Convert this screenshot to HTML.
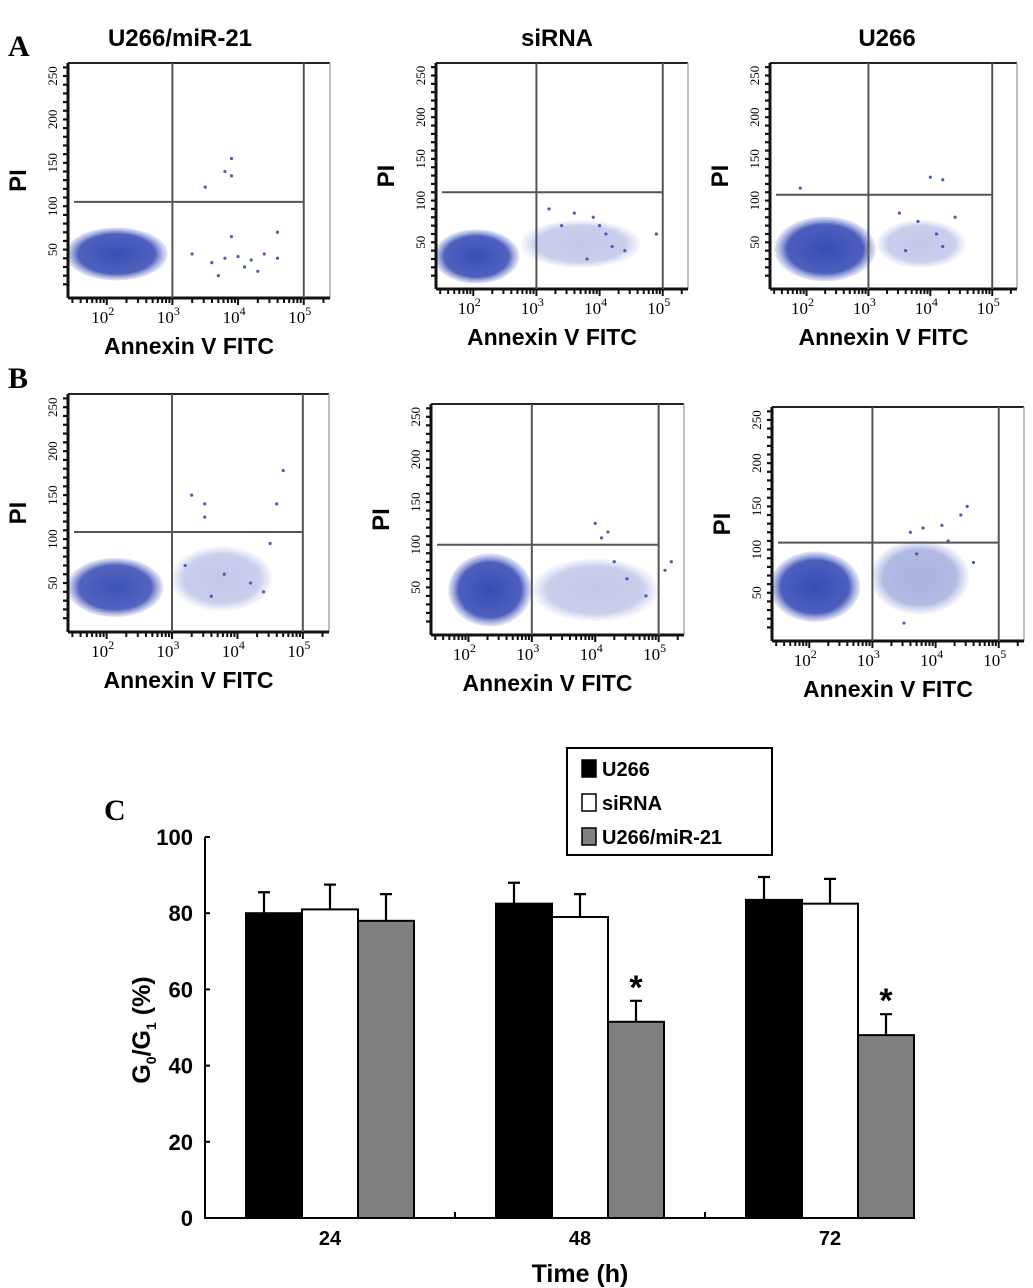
<!DOCTYPE html>
<html><head><meta charset="utf-8"><style>
body{margin:0;background:#fff;width:1033px;height:1288px;overflow:hidden}
svg{display:block}
text{font-family:"Liberation Sans",sans-serif}
</style></head><body>
<svg id="fig" width="1033" height="1288" viewBox="0 0 1033 1288">
<defs>
<radialGradient id="cg"><stop offset="0" stop-color="#3548b2" stop-opacity="1"/><stop offset="0.75" stop-color="#3a4eb6" stop-opacity="0.92"/><stop offset="1" stop-color="#6676cc" stop-opacity="0.15"/></radialGradient>
</defs>
<text x="8" y="56" font-weight="bold" font-size="30" style="font-family:'Liberation Serif',serif">A</text>
<text x="8" y="388" font-weight="bold" font-size="30" style="font-family:'Liberation Serif',serif">B</text>
<text x="104" y="820" font-weight="bold" font-size="30" style="font-family:'Liberation Serif',serif">C</text>
<text x="180" y="46" text-anchor="middle" font-weight="bold" font-size="24">U266/miR-21</text>
<text x="557" y="46" text-anchor="middle" font-weight="bold" font-size="24">siRNA</text>
<text x="887" y="46" text-anchor="middle" font-weight="bold" font-size="24">U266</text>
<g id="scatters"></g>
<g id="bars"></g>
</svg>
<script>
const NS="http://www.w3.org/2000/svg";
function mk(p,t,a){const e=document.createElementNS(NS,t);for(const k in a)e.setAttribute(k,a[k]);p.appendChild(e);return e;}

// ---------- Flow cytometry panels ----------
const panelNames=["a-u266-mir21","a-sirna","a-u266","b-u266-mir21","b-sirna","b-u266"];
const panelBoxes=[[68,63,330,298],[436,63,688,289],[770,63,1017,289],[68,394,329,632],[431,404,684,635],[772,407,1024,641]];
const gateY=[105,110,107,108,100,108];
const clouds=[
 [[2.15,45,0.78,30,0.97]],
 [[2.05,33,0.68,32,0.97],[3.7,48,0.95,28,0.3]],
 [[2.3,42,0.82,38,0.98],[3.85,48,0.72,28,0.3]],
 [[2.13,45,0.74,33,0.95],[3.76,55,0.78,36,0.3]],
 [[2.34,47,0.66,42,0.98],[4.0,47,1.0,36,0.3]],
 [[2.09,57,0.72,40,0.98],[3.75,68,0.78,42,0.42]]
];
const dots=[
 [[3.5,122],[3.8,140],[3.9,155],[3.9,135],[3.3,45],[3.6,35],[3.8,40],[4.0,42],[4.2,38],[4.4,45],[4.6,70],[4.6,40],[3.9,65],[4.1,30],[4.3,25],[3.7,20]],
 [[3.2,90],[3.6,85],[3.9,80],[4.1,60],[4.2,45],[4.4,40],[3.8,30],[4.9,60],[3.4,70],[4.0,70]],
 [[1.9,115],[4.0,128],[4.2,125],[3.5,85],[3.8,75],[4.1,60],[4.4,80],[4.2,45],[3.6,40]],
 [[3.3,150],[3.5,140],[3.5,125],[4.6,140],[4.7,178],[4.5,95],[3.2,70],[3.8,60],[4.2,50],[4.4,40],[3.6,35]],
 [[4.0,125],[4.2,115],[4.1,108],[4.5,60],[4.8,40],[5.1,70],[5.2,80],[4.3,80]],
 [[3.6,120],[3.8,125],[4.1,128],[4.4,140],[4.5,150],[3.5,15],[3.7,95],[4.6,85],[4.2,110]]
];
const yTicks=[50,100,150,200,250];
const xTicks=[2,3,4,5];
const sc=document.getElementById('scatters');
panelBoxes.forEach((b,i)=>{
  const [L,T,R,B]=b;
  const g=mk(sc,'g',{});
  
  
  const sx=v=>L+(v-1.41)/(5.4-1.41)*(R-L);
  const sy=v=>B-5-(v)/265*(B-T-5);
  const cl=mk(g,'clipPath',{id:'c'+i});mk(cl,'rect',{x:L,y:T,width:R-L,height:B-T});
  const cg=mk(g,'g',{'clip-path':'url(#c'+i+')'});
  clouds[i].forEach(c=>{
    const e=mk(cg,'ellipse',{cx:sx(c[0]),cy:sy(c[1]),rx:c[2]/(5.4-1.41)*(R-L),ry:c[3]/265*(B-T),fill:'url(#cg)',opacity:c[4]});
    
    
  });
  dots[i].forEach(d=>{
    const e=mk(cg,'circle',{cx:sx(d[0]),cy:sy(d[1]),r:1.6,fill:'#4a5cc0'});
    
    
  });
  mk(g,'line',{x1:L,y1:T,x2:R,y2:T,stroke:'#222','stroke-width':2});
  mk(g,'line',{x1:R,y1:T,x2:R,y2:B,stroke:'#aaa','stroke-width':1.5});
  mk(g,'line',{x1:L,y1:T,x2:L,y2:B,stroke:'#111','stroke-width':3});
  mk(g,'line',{x1:L,y1:B,x2:R,y2:B,stroke:'#111','stroke-width':3});
  const gy=sy(gateY[i]);
  const gl=mk(g,'line',{x1:sx(3),y1:T,x2:sx(3),y2:B,stroke:'#555','stroke-width':2});
  
  mk(g,'line',{x1:sx(5),y1:T,x2:sx(5),y2:B,stroke:'#555','stroke-width':2});
  const gh=mk(g,'line',{x1:L+6,y1:gy,x2:sx(5),y2:gy,stroke:'#555','stroke-width':2});
  
  for(let v=10;v<=260;v+=10){mk(g,'line',{x1:L-5,y1:sy(v),x2:L,y2:sy(v),stroke:'#111','stroke-width':2.2});}
  yTicks.forEach(v=>{
    const t=mk(g,'text',{x:0,y:0,transform:`translate(${L-11},${sy(v)}) rotate(-90)`,'text-anchor':'middle','font-size':13,style:"font-family:'Liberation Serif',serif"});
    t.textContent=v;
    
  });
  for(let d=1;d<=5;d++){for(let m=1;m<10;m++){const v=d+Math.log10(m);if(v<1.41||v>5.4)continue;
    mk(g,'line',{x1:sx(v),y1:B,x2:sx(v),y2:B+(m==1?7:5),stroke:'#111','stroke-width':2});}}
  xTicks.forEach(v=>{
    const t=mk(g,'text',{x:sx(v)-4,y:B+25,'text-anchor':'middle','font-size':17,style:"font-family:'Liberation Serif',serif"});
    t.textContent='10';
    const s=mk(t,'tspan',{dy:-8,'font-size':12});s.textContent=v;
    
  });
  const yl=mk(g,'text',{transform:`translate(${L-42},${(T+B)/2}) rotate(-90)`,'text-anchor':'middle','font-size':24,'font-weight':'bold'});
  yl.textContent='PI';
  const xl=mk(g,'text',{x:(L+R)/2-10,y:B+56,'text-anchor':'middle','font-size':23,'font-weight':'bold'});
  xl.textContent='Annexin V FITC';
});

// ---------- Bar chart ----------
const categories=["24","48","72"];
const seriesNames=["U266","siRNA","U266/miR-21"];
const u266=[80,82.5,83.5];
const sirna=[81,79,82.5];
const mir21=[78,51.5,48];
const u266Err=[5.5,5.5,6];
const sirnaErr=[6.5,6,6.5];
const mir21Err=[7,5.5,5.5];
const significant=[false,true,true];
const yTickVals=[0,20,40,60,80,100];
const series=[u266,sirna,mir21], errs=[u266Err,sirnaErr,mir21Err];
const fills=["#000","#fff","#808080"];
const bg=document.getElementById('bars');
const X0=205,Y0=1218,Y100=837;
const y=v=>Y0-(v/100)*(Y0-Y100);
const xc=i=>330+i*250;
const BW=56;
yTickVals.forEach(v=>{
  const t=mk(bg,'text',{x:193,y:y(v)+8,'text-anchor':'end','font-size':22,'font-weight':'bold'});
  t.textContent=v;
  
});
categories.forEach((c,i)=>{
  series.forEach((s,k)=>{
    const x=xc(i)+(k-1)*BW-BW/2;
    const r=mk(bg,'rect',{x:x,y:y(s[i]),width:BW,height:Y0-y(s[i]),fill:fills[k],stroke:'#000','stroke-width':2});
    
    
    const ex=x+BW/2-(k==0?10:0);
    const ey=y(s[i]+errs[k][i]);
    const eb=mk(bg,'path',{d:`M${ex},${y(s[i])} V${ey} M${ex-6},${ey} H${ex+6}`,stroke:'#000','stroke-width':2.2,fill:'none'});
    
    if(k==2&&significant[i]){
      const st=mk(bg,'text',{x:ex,y:ey-2,'text-anchor':'middle','font-size':34,'font-weight':'bold'});
      st.textContent='*';
    }
  });
  const t=mk(bg,'text',{x:xc(i),y:1245,'text-anchor':'middle','font-size':20,'font-weight':'bold'});
  t.textContent=c;
  if(i>0) mk(bg,'line',{x1:xc(i)-125,y1:Y0,x2:xc(i)-125,y2:Y0-6,stroke:'#000','stroke-width':2});
});
const ax=mk(bg,'path',{d:`M${X0},${Y100} V${Y0} H912`,stroke:'#000','stroke-width':2,fill:'none'});

yTickVals.forEach(v=>mk(bg,'line',{x1:X0,y1:y(v),x2:X0+5,y2:y(v),stroke:'#000','stroke-width':2}));
const xt=mk(bg,'text',{x:580,y:1282,'text-anchor':'middle','font-size':25,'font-weight':'bold'});
xt.textContent='Time (h)';
const yt=mk(bg,'text',{transform:'translate(150,1030) rotate(-90)','text-anchor':'middle','font-size':25,'font-weight':'bold'});

yt.appendChild(document.createTextNode('G'));
let sp=mk(yt,'tspan',{dy:6,'font-size':14});sp.textContent='0';
sp=mk(yt,'tspan',{dy:-6});sp.textContent='/G';
sp=mk(yt,'tspan',{dy:6,'font-size':14});sp.textContent='1';
sp=mk(yt,'tspan',{dy:-6});sp.textContent=' (%)';
const lg=mk(bg,'g',{});

mk(lg,'rect',{x:567,y:748,width:205,height:107,fill:'#fff',stroke:'#000','stroke-width':2});
seriesNames.forEach((n,k)=>{
  const ry=760+k*34;
  const sw=mk(lg,'rect',{x:582,y:ry,width:14,height:17,fill:fills[k],stroke:'#000','stroke-width':1.5});
  
  const t=mk(lg,'text',{x:602,y:ry+16,'font-size':20,'font-weight':'bold'});
  t.textContent=n;
});
</script>
</body></html>
